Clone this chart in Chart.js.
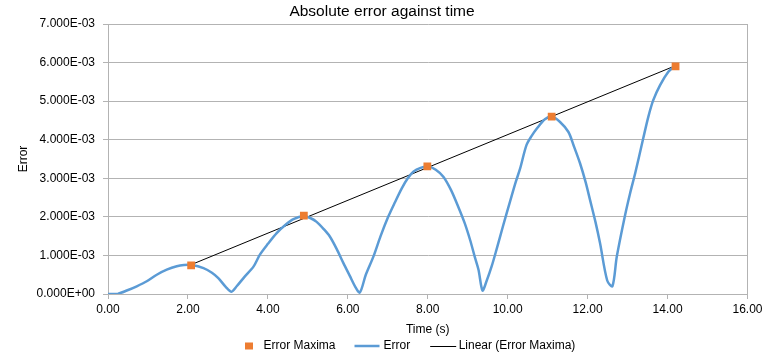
<!DOCTYPE html>
<html>
<head>
<meta charset="utf-8">
<script src="https://cdn.jsdelivr.net/npm/chart.js@4.4.1/dist/chart.umd.min.js"></script>
<style>
html,body{margin:0;padding:0;background:#fff;}
#wrap{width:780px;height:356px;}
</style>
</head>
<body>
<div id="wrap"><canvas id="c" width="780" height="356"></canvas></div>
<script>
const chartTitle = 'Absolute error against time';
const xTitle = 'Time (s)';
const yTitle = 'Error';

const maximaX = [2.08, 4.90, 7.99, 11.10, 14.20];
const maximaY = [0.745e-3, 2.03e-3, 3.31e-3, 4.60e-3, 5.90e-3];

const errorX = [0, 0.25, 0.47, 0.72, 0.97, 1.22, 1.47, 1.72, 1.9, 2.1, 2.39, 2.6, 2.76, 2.95, 3.09, 3.22, 3.42, 3.64, 3.8, 4.0,
  4.22, 4.45, 4.64, 4.89, 5.06, 5.22, 5.4, 5.55, 5.72, 5.89, 6.05, 6.18, 6.30, 6.45, 6.64, 6.82, 7.01, 7.18, 7.35, 7.5,
  7.64, 7.82, 8.01, 8.2, 8.39, 8.58, 8.76, 8.92, 9.06, 9.18, 9.27, 9.37, 9.47, 9.6, 9.72, 9.88, 10.06, 10.2, 10.31, 10.47,
  10.6, 10.73, 10.93, 11.10, 11.31, 11.52, 11.65, 11.81, 11.95, 12.06, 12.2, 12.31, 12.49, 12.62, 12.73, 12.93, 13.06, 13.19, 13.39, 13.52,
  13.64, 13.81, 14.02, 14.16];
const errorY = [0, 0.01e-3, 0.09e-3, 0.2e-3, 0.33e-3, 0.5e-3, 0.63e-3, 0.72e-3, 0.75e-3, 0.75e-3, 0.67e-3, 0.55e-3, 0.41e-3, 0.18e-3, 0.06e-3, 0.2e-3, 0.45e-3, 0.71e-3, 1.02e-3, 1.3e-3,
  1.58e-3, 1.8e-3, 1.94e-3, 2.02e-3, 1.97e-3, 1.87e-3, 1.68e-3, 1.49e-3, 1.17e-3, 0.8e-3, 0.47e-3, 0.2e-3, 0.04e-3, 0.5e-3, 0.97e-3, 1.5e-3, 2.0e-3, 2.38e-3, 2.74e-3, 3.0e-3,
  3.17e-3, 3.27e-3, 3.31e-3, 3.22e-3, 3.04e-3, 2.7e-3, 2.27e-3, 1.85e-3, 1.40e-3, 0.95e-3, 0.63e-3, 0.09e-3, 0.33e-3, 0.72e-3, 1.15e-3, 1.75e-3, 2.4e-3, 2.9e-3, 3.25e-3, 3.86e-3,
  4.1e-3, 4.29e-3, 4.53e-3, 4.60e-3, 4.46e-3, 4.20e-3, 3.85e-3, 3.39e-3, 2.9e-3, 2.44e-3, 1.85e-3, 1.32e-3, 0.35e-3, 0.2e-3, 0.97e-3, 2.01e-3, 2.6e-3, 3.13e-3, 4.03e-3, 4.6e-3,
  5.02e-3, 5.41e-3, 5.76e-3, 5.89e-3];

const trendX = [2.08, 14.20];
const trendY = [0.76e-3, 5.92e-3];

const seriesNames = ['Error Maxima', 'Error', 'Linear (Error Maxima)'];
const seriesColors = ['#ED7D31', '#5B9BD5', '#000000'];

const toPts = (xs, ys) => xs.map((x, i) => ({x: x, y: ys[i]}));

function sciLabel(v) {
  if (Math.abs(v) < 1e-12) return '0.000E+00';
  let e = Math.floor(Math.log10(Math.abs(v)) + 1e-9);
  let m = v / Math.pow(10, e);
  const sign = e < 0 ? '-' : '+';
  const ea = Math.abs(e);
  return m.toFixed(3) + 'E' + sign + (ea < 10 ? '0' + ea : '' + ea);
}

const GRID = '#B3B3B3';
const FONT = "'Liberation Sans', Arial, sans-serif";
Chart.defaults.font.family = FONT;
Chart.defaults.font.size = 12;
Chart.defaults.color = '#000';

// Legend drawn below the axis title, Excel-style
const bottomLegend = {
  id: 'bottomLegend',
  afterDraw(chart) {
    const ctx = chart.ctx;
    const ds = chart.data.datasets;
    const cy = 346;
    ctx.save();
    ctx.font = '12px ' + FONT;
    ctx.textBaseline = 'middle';
    ctx.textAlign = 'left';
    let x = 245;
    // item 1: square marker
    ctx.fillStyle = ds[0].backgroundColor;
    ctx.fillRect(x, cy - 3.5, 8, 7);
    x += 18.5;
    ctx.fillStyle = '#000';
    ctx.fillText(ds[0].label, x, cy);
    x += ctx.measureText(ds[0].label).width + 19;
    // item 2: line
    ctx.strokeStyle = ds[1].borderColor;
    ctx.lineWidth = ds[1].borderWidth;
    ctx.beginPath(); ctx.moveTo(x, cy); ctx.lineTo(x + 25, cy); ctx.stroke();
    x += 29;
    ctx.fillText(ds[1].label, x, cy);
    x += ctx.measureText(ds[1].label).width + 20;
    // item 3: thin line
    ctx.strokeStyle = ds[2].borderColor;
    ctx.lineWidth = ds[2].borderWidth;
    ctx.beginPath(); ctx.moveTo(x, cy + 0.5); ctx.lineTo(x + 26, cy + 0.5); ctx.stroke();
    x += 28.5;
    ctx.fillText(ds[2].label, x, cy);
    ctx.restore();
  }
};

new Chart(document.getElementById('c'), {
  type: 'scatter',
  plugins: [bottomLegend],
  data: {
    datasets: [
      {
        label: seriesNames[0],
        data: toPts(maximaX, maximaY),
        pointStyle: 'rect',
        pointRadius: 5.5,
        pointHoverRadius: 5.5,
        backgroundColor: seriesColors[0],
        borderColor: seriesColors[0],
        borderWidth: 0,
        showLine: false
      },
      {
        label: seriesNames[1],
        data: toPts(errorX, errorY),
        showLine: true,
        borderColor: seriesColors[1],
        backgroundColor: seriesColors[1],
        borderWidth: 2.5,
        pointRadius: 0,
        pointHoverRadius: 0,
        tension: 0.3,
        fill: false
      },
      {
        label: seriesNames[2],
        data: toPts(trendX, trendY),
        showLine: true,
        borderColor: seriesColors[2],
        backgroundColor: seriesColors[2],
        borderWidth: 1,
        pointRadius: 0,
        pointHoverRadius: 0,
        fill: false
      }
    ]
  },
  options: {
    responsive: false,
    animation: false,
    layout: {padding: {left: 0, right: 16, top: 0, bottom: 18.8}},
    plugins: {
      tooltip: {enabled: false},
      legend: {display: false},
      title: {
        display: true,
        text: chartTitle,
        color: '#000',
        font: {size: 15.5, weight: 'normal'},
        padding: {top: 2.2, bottom: 3.2}
      }
    },
    scales: {
      x: {
        type: 'linear',
        min: 0,
        max: 16,
        ticks: {stepSize: 2, padding: 3, callback: v => Number(v).toFixed(2), maxRotation: 0},
        grid: {
          color: ctx => (ctx.tick && ctx.tick.value === 16) ? GRID : 'rgba(0,0,0,0)',
          tickColor: GRID,
          tickLength: 5,
          lineWidth: 1
        },
        border: {color: GRID, width: 1},
        title: {display: true, text: xTitle, color: '#000', font: {size: 12}, padding: {top: 3, bottom: 0}},
        afterFit: s => { s.height = 43.2; }
      },
      y: {
        type: 'linear',
        min: 0,
        max: 0.007,
        ticks: {stepSize: 0.001, padding: 8, callback: v => sciLabel(v)},
        grid: {color: GRID, tickColor: GRID, tickLength: 5, lineWidth: 1},
        border: {color: GRID, width: 1},
        title: {display: true, text: yTitle, color: '#000', font: {size: 12}, padding: {top: 16, bottom: 0}},
        afterFit: s => { s.width = 108; }
      },
      yRight: {
        type: 'linear',
        position: 'right',
        display: true,
        ticks: {display: false},
        grid: {display: false, drawTicks: false},
        border: {display: false},
        afterFit: s => { s.width = 16.5; }
      }
    }
  }
});
</script>
</body>
</html>
